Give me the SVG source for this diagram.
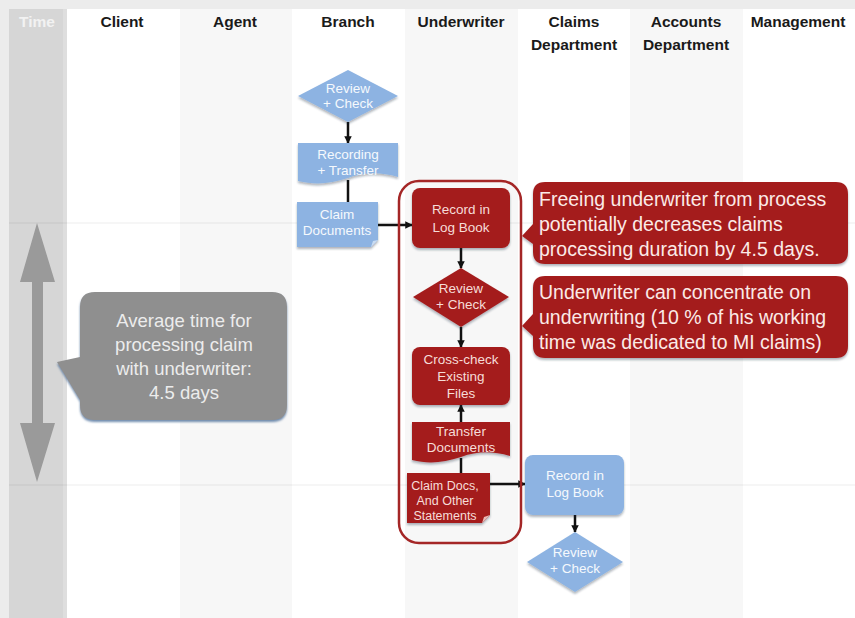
<svg xmlns="http://www.w3.org/2000/svg" width="855" height="618" viewBox="0 0 855 618">
<style>
.hdr{font-family:"Liberation Sans",Arial,sans-serif;font-weight:bold;font-size:15.5px;fill:#1a1a1a;text-anchor:middle}
.bt{font-family:"Liberation Sans",Arial,sans-serif;font-size:13.5px;fill:#f5f9fd;text-anchor:middle}
.rt{font-family:"Liberation Sans",Arial,sans-serif;font-size:13.5px;fill:#f6dcd8;text-anchor:middle}
.sm{font-size:12.5px}
.ct{font-family:"Liberation Sans",Arial,sans-serif;font-size:19.5px;fill:#fbeae7}
.gt{font-family:"Liberation Sans",Arial,sans-serif;font-size:18.5px;fill:#ececec;text-anchor:middle}
.blue{fill:#8db3e2}
.red{fill:#a41e1e}
.fold{fill:#c9dcf2}
.rfold{fill:#e8b9b5}
.conn{stroke:#111;stroke-width:2.5;fill:none}
</style>
<defs>
<marker id="ah" viewBox="0 0 10 10" refX="9" refY="5" markerWidth="3" markerHeight="3" orient="auto">
<path d="M0,0 L10,5 L0,10 Z" fill="#111"/>
</marker>
<filter id="sh" x="-10%" y="-10%" width="120%" height="130%">
<feDropShadow dx="0" dy="2" stdDeviation="1" flood-color="#1e2a3a" flood-opacity="0.35"/>
</filter>
<filter id="gsh" x="-10%" y="-10%" width="120%" height="130%">
<feDropShadow dx="0" dy="2" stdDeviation="0.8" flood-color="#4e6f9a" flood-opacity="0.8"/>
</filter>
</defs>

<g id="background">
<rect x="0" y="0" width="855" height="618" fill="#ececec"/>
<rect x="9" y="9" width="846" height="609" fill="#ffffff"/>
<rect x="9" y="9" width="54" height="609" fill="#d6d6d6"/>
<rect x="63" y="9" width="4" height="609" fill="#dedede"/>
<rect x="180" y="9" width="112" height="609" fill="#f7f7f7"/>
<rect x="405" y="9" width="113" height="609" fill="#f7f7f7"/>
<rect x="630" y="9" width="113" height="609" fill="#f7f7f7"/>
<line x1="9" y1="223" x2="855" y2="223" stroke="#000" stroke-opacity="0.035" stroke-width="2"/>
<line x1="9" y1="485" x2="855" y2="485" stroke="#000" stroke-opacity="0.035" stroke-width="2"/>
</g>

<g id="headers">
<text class="hdr" x="37" y="27" style="fill:#f2f2f2">Time</text>
<text class="hdr" x="122" y="27">Client</text>
<text class="hdr" x="235" y="27">Agent</text>
<text class="hdr" x="348" y="27">Branch</text>
<text class="hdr" x="461" y="27">Underwriter</text>
<text class="hdr" x="574" y="27">Claims</text>
<text class="hdr" x="574" y="50">Department</text>
<text class="hdr" x="686" y="27">Accounts</text>
<text class="hdr" x="686" y="50">Department</text>
<text class="hdr" x="798" y="27">Management</text>
</g>

<g id="time-arrow">
<polygon points="37,223 55,282 43,282 43,423 55,423 37,482 20,423 32,423 32,282 20,282" fill="#9a9a9a"/>
</g>

<g id="avg-time-callout">
<path d="M95,292 H272 Q287,292 287,307 V405 Q287,420 272,420 H95 Q80,420 80,405 V400 L57,362 L80,357 V307 Q80,292 95,292 Z" fill="#8f8f8f" filter="url(#gsh)"/>
<text class="gt" x="184" y="327">Average time for</text>
<text class="gt" x="184" y="351">processing claim</text>
<text class="gt" x="184" y="375">with underwriter:</text>
<text class="gt" x="184" y="399">4.5 days</text>
</g>

<g id="connectors">
<line class="conn" x1="348" y1="122" x2="348" y2="143" marker-end="url(#ah)"/>
<line class="conn" x1="348" y1="180" x2="348" y2="202"/>
<line class="conn" x1="378" y1="225" x2="412" y2="225" marker-end="url(#ah)"/>
<line class="conn" x1="461" y1="248" x2="461" y2="268" marker-end="url(#ah)"/>
<line class="conn" x1="461" y1="327" x2="461" y2="347" marker-end="url(#ah)"/>
<line class="conn" x1="461" y1="422" x2="461" y2="405" marker-end="url(#ah)"/>
<line class="conn" x1="461" y1="458" x2="461" y2="473"/>
<line class="conn" x1="490" y1="484" x2="525" y2="484" marker-end="url(#ah)"/>
<line class="conn" x1="575" y1="515" x2="575" y2="532" marker-end="url(#ah)"/>
</g>

<g id="branch-review">
<polygon class="blue" points="348,70 398,96 348,122 298,96" filter="url(#sh)"/>
<text class="bt" x="348" y="93">Review</text>
<text class="bt" x="348" y="108">+ Check</text>
</g>

<g id="branch-recording">
<path class="blue" d="M298,143 H398 V177 C380,172 365,172 348,178 C330,184 315,185 298,181 Z" filter="url(#sh)"/>
<text class="bt" x="348" y="159">Recording</text>
<text class="bt" x="348" y="175">+ Transfer</text>
</g>

<g id="branch-claim-documents">
<path class="blue" d="M297,202 H378 V240 L371,247 H297 Z" filter="url(#sh)"/>
<path class="fold" d="M371,247 L373,241 L378,240 Z"/>
<text class="bt" x="337" y="219">Claim</text>
<text class="bt" x="337" y="235">Documents</text>
</g>

<g id="underwriter-container">
<rect x="399" y="181" width="122" height="362" rx="20" fill="none" stroke="#a42626" stroke-width="2.5"/>
</g>

<g id="uw-record-log">
<rect class="red" x="412" y="188" width="98" height="60" rx="8" filter="url(#sh)"/>
<text class="rt" x="461" y="214">Record in</text>
<text class="rt" x="461" y="232">Log Book</text>
</g>

<g id="uw-review">
<polygon class="red" points="461,268 509,297 461,327 413,297" filter="url(#sh)"/>
<text class="rt" x="461" y="293">Review</text>
<text class="rt" x="461" y="309">+ Check</text>
</g>

<g id="uw-crosscheck">
<rect class="red" x="412" y="347" width="98" height="58" rx="8" filter="url(#sh)"/>
<text class="rt" x="461" y="364">Cross-check</text>
<text class="rt" x="461" y="381">Existing</text>
<text class="rt" x="461" y="398">Files</text>
</g>

<g id="uw-transfer">
<path class="red" d="M412,422 H510 V456 C492,451 478,451 461,457 C443,463 428,464 412,460 Z" filter="url(#sh)"/>
<text class="rt" x="461" y="436">Transfer</text>
<text class="rt" x="461" y="452">Documents</text>
</g>

<g id="uw-claim-docs">
<path class="red" d="M407,473 H490 V515 L482,523 H407 Z" filter="url(#sh)"/>
<path class="rfold" d="M482,523 L484,517 L490,515 Z"/>
<text class="rt sm" x="445" y="490">Claim Docs,</text>
<text class="rt sm" x="445" y="505">And Other</text>
<text class="rt sm" x="445" y="520">Statements</text>
</g>

<g id="claims-record-log">
<rect class="blue" x="525" y="455" width="99" height="60" rx="8" filter="url(#sh)"/>
<text class="bt" x="575" y="480">Record in</text>
<text class="bt" x="575" y="497">Log Book</text>
</g>

<g id="claims-review">
<polygon class="blue" points="575,532 623,562 575,592 527,562" filter="url(#sh)"/>
<text class="bt" x="575" y="557">Review</text>
<text class="bt" x="575" y="573">+ Check</text>
</g>

<g id="callout-freeing">
<path class="red" d="M545,182 H836 Q848,182 848,194 V252 Q848,264 836,264 H545 Q533,264 533,252 V244 L522,236 L533,224 V194 Q533,182 545,182 Z" filter="url(#sh)"/>
<text class="ct" x="539" y="206">Freeing underwriter from process</text>
<text class="ct" x="539" y="231">potentially decreases claims</text>
<text class="ct" x="539" y="256">processing duration by 4.5 days.</text>
</g>

<g id="callout-concentrate">
<path class="red" d="M545,276 H836 Q848,276 848,288 V346 Q848,358 836,358 H545 Q533,358 533,346 V336 L522,326 L533,314 V288 Q533,276 545,276 Z" filter="url(#sh)"/>
<text class="ct" x="539" y="299">Underwriter can concentrate on</text>
<text class="ct" x="539" y="324">underwriting (10 % of his working</text>
<text class="ct" x="539" y="349">time was dedicated to MI claims)</text>
</g>
</svg>
